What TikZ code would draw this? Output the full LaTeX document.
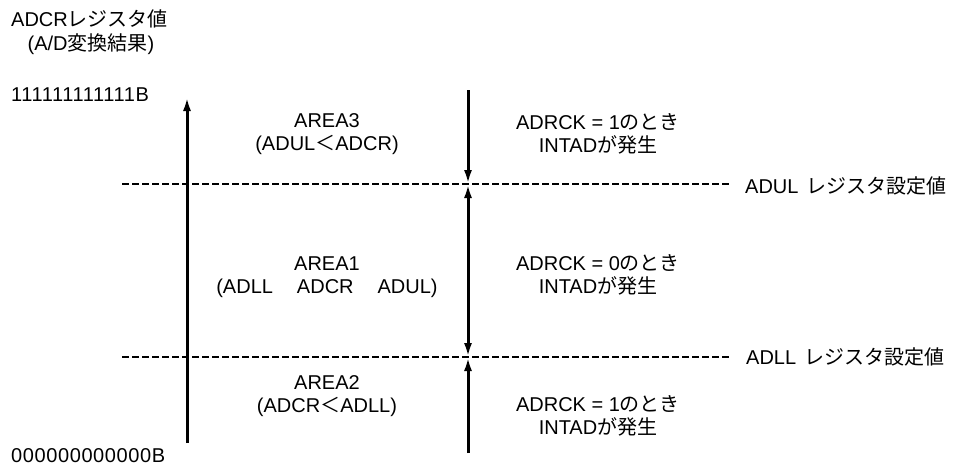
\documentclass[tikz,border=0pt]{standalone}
\usepackage{fontspec}
\setmainfont{Liberation Sans}
\newfontfamily\jp{Noto Sans CJK JP}
\newfontfamily\digits[LetterSpace=3]{Liberation Sans}
\usetikzlibrary{arrows.meta}
\begin{document}
\begin{tikzpicture}[x=1pt,y=-1pt,
  txt/.style={inner sep=0pt,font=\fontsize{20}{24}\selectfont,align=center},
  axis/.style={line width=3pt,-{Latex[length=14pt,width=8pt]}},
  both/.style={line width=3pt,{Latex[length=14pt,width=8pt]}-{Latex[length=14pt,width=8pt]}},
  lim/.style={line width=2pt,dash pattern=on 6.5pt off 3.5pt}]
\useasboundingbox (0,0) rectangle (957,469);
% labels left
\node[txt,anchor=west] (ylab) at (11,19) {ADCR{\jp レジスタ値}};
\node[txt] (ylab2) at (91,44) {(A/D{\jp 変換結果})};
\node[txt,anchor=west] (top) at (11,95) {\digits 111111111111B};
\node[txt,anchor=west] (bot) at (11,456) {\digits 000000000000B};
% axis
\coordinate (a0) at (187,443);
\coordinate (a1) at (187,97);
\draw[axis] (a0) -- (a1);
% limit lines
\coordinate (ul0) at (122,184);
\coordinate (ul1) at (729,184);
\coordinate (ll0) at (122,357);
\coordinate (ll1) at (729,357);
\draw[lim] (ul0) -- (ul1);
\draw[lim] (ll0) -- (ll1);
\node[txt,anchor=west] (ullab) at (745,186) {ADUL\hspace{0.4em}{\jp レジスタ設定値}};
\node[txt,anchor=west] (lllab) at (746,357) {ADLL\hspace{0.4em}{\jp レジスタ設定値}};
% right arrows
\coordinate (r0) at (468,90);
\coordinate (r1) at (468,184);
\coordinate (r2) at (468,357);
\coordinate (r3) at (468,453);
\draw[axis] (r0) -- (r1);
\draw[both] (r1) -- (r2);
\draw[axis] (r3) -- (r2);
% area texts
\node[txt] (ar3) at (327,134) {AREA3\\[-1pt](ADUL{\jp ＜}ADCR)};
\node[txt] (ar1) at (327,277) {AREA1\\[-1pt](ADLL\hspace{1.2em}ADCR\hspace{1.2em}ADUL)};
\node[txt] (ar2) at (327,396) {AREA2\\[-1pt](ADCR{\jp ＜}ADLL)};
% interrupt texts
\node[txt] (i3) at (598,134) {ADRCK = 1{\jp のとき}\\[-1pt]INTAD{\jp が発生}};
\node[txt] (i1) at (598,275) {ADRCK = 0{\jp のとき}\\[-1pt]INTAD{\jp が発生}};
\node[txt] (i2) at (598,416) {ADRCK = 1{\jp のとき}\\[-1pt]INTAD{\jp が発生}};
\end{tikzpicture}
\end{document}
